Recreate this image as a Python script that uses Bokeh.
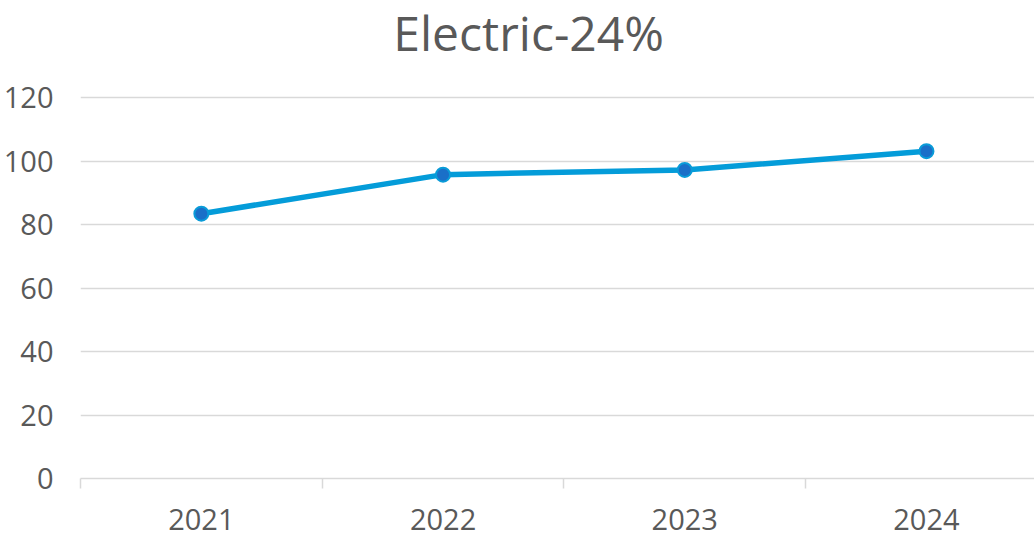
from bokeh.plotting import figure
from bokeh.models import Range1d, FixedTicker, ColumnDataSource, Label
from bokeh.embed import file_html
from bokeh.resources import INLINE

years = [2021, 2022, 2023, 2024]
values = [83.4, 95.7, 97.2, 103.1]
y_ticks = [0, 20, 40, 60, 80, 100, 120]
title_text = "Electric-24%"

FONT = "Open Sans"
TXT = "#595959"
GRID = "#d9d9d9"

src = ColumnDataSource(data=dict(year=years, value=values))

# the frame reaches the top of the canvas so the title can sit inside it
Y_TOP = 120 * 478 / 381

p = figure(width=1034, height=541, output_backend="svg", toolbar_location=None,
           x_range=Range1d(2020.5, 2024.447), y_range=Range1d(0, Y_TOP),
           min_border_left=80, min_border_right=0, min_border_top=0,
           min_border_bottom=63, outline_line_color=None)
p.title.visible = False

title = Label(x=2022.354, y=120 * (478 - 32) / 381, text=title_text,
              text_font=FONT, text_font_size="48px", text_color=TXT,
              text_align="center", text_baseline="alphabetic")
p.add_layout(title)

p.line("year", "value", source=src, line_color="#049cd9", line_width=5.5)
p.scatter("year", "value", source=src, size=14, fill_color="#1a6fc8",
          line_color="#0a9bd8", line_width=2)

# x axis
p.xaxis.ticker = FixedTicker(ticks=years, minor_ticks=[2020.5, 2021.5, 2022.5, 2023.5, 2024.5])
p.xaxis.major_tick_line_color = None
p.xaxis.minor_tick_out = 10
p.xaxis.minor_tick_in = 0
p.xaxis.minor_tick_line_color = GRID
p.xaxis.minor_tick_line_width = 1.5
p.xaxis.axis_line_color = GRID
p.xaxis.axis_line_width = 1.5
p.xaxis.major_label_text_font = FONT
p.xaxis.major_label_text_font_size = "29px"
p.xaxis.major_label_text_color = TXT
p.xaxis.major_label_standoff = 20
p.xaxis.major_label_overrides = {y: str(y) for y in years}

# y axis
p.yaxis.ticker = FixedTicker(ticks=y_ticks)
p.yaxis.axis_line_color = None
p.yaxis.major_tick_line_color = None
p.yaxis.minor_tick_line_color = None
p.yaxis.major_label_text_font = FONT
p.yaxis.major_label_text_font_size = "29px"
p.yaxis.major_label_text_color = TXT
p.yaxis.major_label_standoff = 21

p.xgrid.grid_line_color = None
p.ygrid.grid_line_color = GRID
p.ygrid.grid_line_width = 1.5
p.ygrid.ticker = FixedTicker(ticks=y_ticks)

open("out.html", "w").write(file_html(p, INLINE))
